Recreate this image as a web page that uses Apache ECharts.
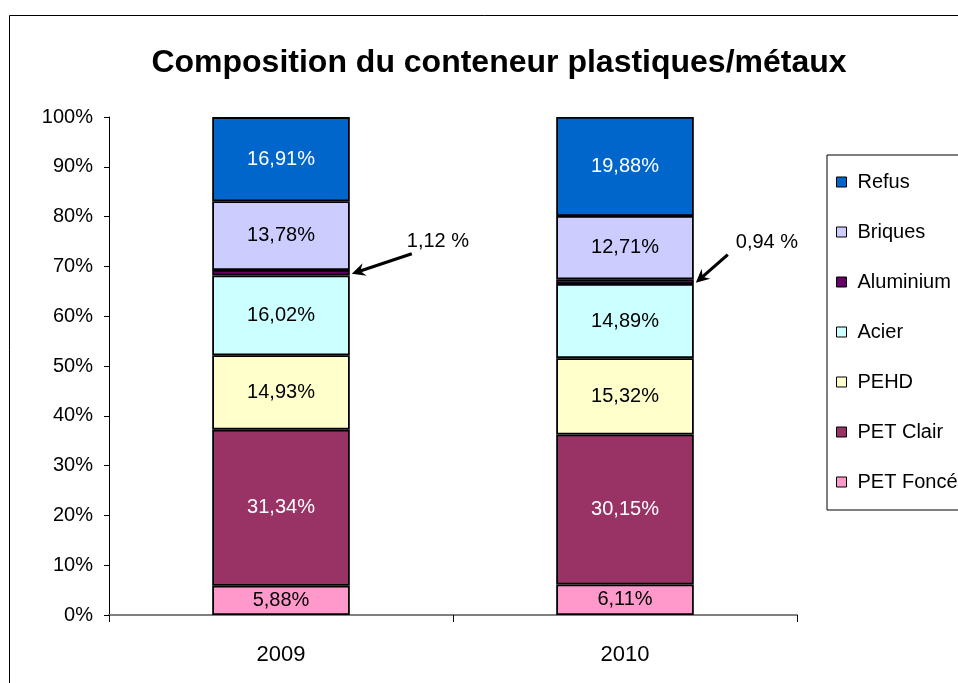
<!DOCTYPE html>
<html><head><meta charset="utf-8">
<script src="https://cdn.jsdelivr.net/npm/echarts@6/dist/echarts.min.js"></script>
<style>html,body{margin:0;padding:0;background:#fff}#c{width:958px;height:683px}</style>
</head><body><div id="c"></div>
<script>
const categories = ['2009', '2010'];
const seriesNames = ['PET Foncé', 'PET Clair', 'PEHD', 'Acier', 'Aluminium', 'Briques', 'Refus'];
const petFonce = [5.88, 6.11];
const petClair = [31.34, 30.15];
const pehd = [14.93, 15.32];
const acier = [16.02, 14.89];
const aluminium = [1.12, 0.94];
const briques = [13.78, 12.71];
const refus = [16.91, 19.88];
const yTicks = [0, 10, 20, 30, 40, 50, 60, 70, 80, 90, 100];
const annotationTexts = ['1,12 %', '0,94 %'];

const values = [petFonce, petClair, pehd, acier, aluminium, briques, refus];
const colors = ['#FF99CC', '#993366', '#FFFFCC', '#CCFFFF', '#660066', '#CCCCFF', '#0066CC'];
const labelColors = ['#000', '#fff', '#000', '#000', null, '#000', '#fff'];
const FONT = 'Liberation Sans, Arial, sans-serif';

const chart = echarts.init(document.getElementById('c'));
const series = seriesNames.map((n, i) => ({
  name: n, type: 'bar', stack: 'total', barWidth: '40%',
  data: values[i],
  itemStyle: { color: colors[i], borderColor: '#000', borderWidth: 1.8 },
  label: {
    show: labelColors[i] !== null, position: 'inside',
    color: labelColors[i] || '#000', fontFamily: FONT, fontSize: 20,
    formatter: p => p.value.toFixed(2).replace('.', ',') + '%'
  },
  emphasis: { disabled: true }
}));

chart.setOption({
  animation: false,
  title: {
    text: 'Composition du conteneur plastiques/métaux',
    left: 494, top: 42, textAlign: 'center',
    textStyle: { fontFamily: FONT, fontSize: 32, fontWeight: 'bold', color: '#000' }
  },
  grid: { left: 109, right: 161, top: 117, bottom: 68, containLabel: false },
  legend: {
    orient: 'vertical', left: 827, top: 155,
    data: seriesNames.slice().reverse(),
    icon: 'rect', itemWidth: 10, itemHeight: 10, itemGap: 28,
    padding: [16, 60, 17, 9],
    borderColor: '#000', borderWidth: 1,
    itemStyle: { borderColor: '#000', borderWidth: 1 },
    textStyle: { fontFamily: FONT, fontSize: 20, color: '#000', lineHeight: 22, padding: [0, 0, 0, 6] }
  },
  xAxis: {
    type: 'category', data: categories,
    axisLine: { lineStyle: { color: '#808080', width: 2 } },
    axisTick: { show: true, length: 7, lineStyle: { color: '#000' } },
    axisLabel: { fontFamily: FONT, fontSize: 22, color: '#000', margin: 29 }
  },
  yAxis: {
    type: 'value', min: 0, max: 100, interval: 10,
    axisLine: { show: true, lineStyle: { color: '#000' } },
    axisTick: { show: true, length: 5, lineStyle: { color: '#000' } },
    splitLine: { show: false },
    axisLabel: { fontFamily: FONT, fontSize: 20, color: '#000', margin: 16,
      formatter: v => yTicks.includes(v) ? v + '%' : '' }
  },
  series: series
});

// annotations: arrows pointing at aluminium segments
const barHalf = (chart.convertToPixel({ xAxisIndex: 0 }, categories[1]) - chart.convertToPixel({ xAxisIndex: 0 }, categories[0])) * 0.4 / 2;
const graphics = [{
  type: 'rect', shape: { x: 9.5, y: 15.5, width: 1000, height: 1000 },
  style: { fill: null, stroke: '#000', lineWidth: 1 }, silent: true, z: -10
}];
categories.forEach((c, i) => {
  const base = petFonce[i] + petClair[i] + pehd[i] + acier[i];
  const mid = base + aluminium[i] / 2;
  const p = chart.convertToPixel({ xAxisIndex: 0, yAxisIndex: 0 }, [c, mid]);
  const tipX = p[0] + barHalf + 2, tipY = p[1] + 1;
  const tail = i === 0 ? [tipX + 60, tipY - 20] : [tipX + 32, tipY - 28];
  const textPos = i === 0 ? [tail[0] - 5, tail[1] - 12] : [tail[0] + 8, tail[1] - 12];
  const ang = Math.atan2(tail[1] - tipY, tail[0] - tipX);
  const L = 15, W = 0.45;
  graphics.push({
    type: 'line', shape: { x1: tail[0], y1: tail[1], x2: tipX + Math.cos(ang) * 8, y2: tipY + Math.sin(ang) * 8 },
    style: { stroke: '#000', lineWidth: 3.2 }, silent: true
  });
  graphics.push({
    type: 'polygon', shape: { points: [
      [tipX, tipY],
      [tipX + L * Math.cos(ang + W), tipY + L * Math.sin(ang + W)],
      [tipX + L * 0.6 * Math.cos(ang), tipY + L * 0.6 * Math.sin(ang)],
      [tipX + L * Math.cos(ang - W), tipY + L * Math.sin(ang - W)]
    ] },
    style: { fill: '#000' }, silent: true
  });
  graphics.push({
    type: 'text', x: textPos[0], y: textPos[1],
    style: { text: annotationTexts[i], font: '20px ' + FONT, fill: '#000', textVerticalAlign: 'middle' },
    silent: true
  });
});
chart.setOption({ graphic: graphics });
</script></body></html>
